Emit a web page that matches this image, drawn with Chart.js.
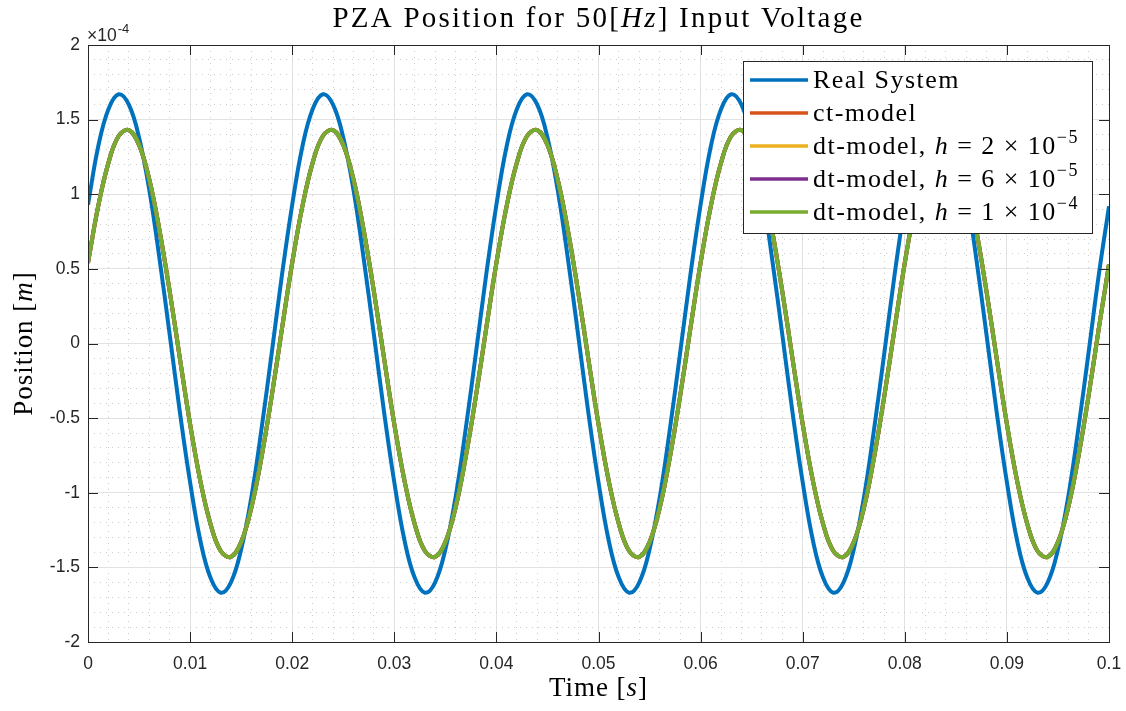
<!DOCTYPE html>
<html>
<head>
<meta charset="utf-8">
<script src="https://cdn.jsdelivr.net/npm/chart.js@4.4.1/dist/chart.umd.min.js"></script>
<style>
  html, body { margin: 0; padding: 0; background: #fff; }
  #wrap { width: 1126px; height: 711px; }
</style>
</head>
<body>
<div id="wrap"><canvas id="c" width="1126" height="711"></canvas></div>
<script>
// time samples, ms
const timeMs = [
  0, 1, 2, 3, 4, 5, 6, 7, 8, 9, 10, 11, 12, 13, 14, 15, 16, 17, 18, 19,
  20, 21, 22, 23, 24, 25, 26, 27, 28, 29, 30, 31, 32, 33, 34, 35, 36, 37, 38, 39,
  40, 41, 42, 43, 44, 45, 46, 47, 48, 49, 50, 51, 52, 53, 54, 55, 56, 57, 58, 59,
  60, 61, 62, 63, 64, 65, 66, 67, 68, 69, 70, 71, 72, 73, 74, 75, 76, 77, 78, 79,
  80, 81, 82, 83, 84, 85, 86, 87, 88, 89, 90, 91, 92, 93, 94, 95, 96, 97, 98, 99,
  100
];

// position, in units of 1e-4 m
const realSystem = [
  0.93, 1.32, 1.57, 1.67, 1.60, 1.38, 1.03, 0.57, 0.06, -0.46, -0.93, -1.32, -1.57, -1.67, -1.60, -1.38, -1.03, -0.57, -0.06, 0.46,
  0.93, 1.32, 1.57, 1.67, 1.60, 1.38, 1.03, 0.57, 0.06, -0.46, -0.93, -1.32, -1.57, -1.67, -1.60, -1.38, -1.03, -0.57, -0.06, 0.46,
  0.93, 1.32, 1.57, 1.67, 1.60, 1.38, 1.03, 0.57, 0.06, -0.46, -0.93, -1.32, -1.57, -1.67, -1.60, -1.38, -1.03, -0.57, -0.06, 0.46,
  0.93, 1.32, 1.57, 1.67, 1.60, 1.38, 1.03, 0.57, 0.06, -0.46, -0.93, -1.32, -1.57, -1.67, -1.60, -1.38, -1.03, -0.57, -0.06, 0.46,
  0.93, 1.32, 1.57, 1.67, 1.60, 1.38, 1.03, 0.57, 0.06, -0.46, -0.93, -1.32, -1.57, -1.67, -1.60, -1.38, -1.03, -0.57, -0.06, 0.46,
  0.92
];
const ctModel = [
  0.54, 0.92, 1.21, 1.39, 1.43, 1.33, 1.10, 0.76, 0.35, -0.10, -0.54, -0.92, -1.21, -1.39, -1.43, -1.33, -1.10, -0.76, -0.35, 0.10,
  0.54, 0.92, 1.21, 1.39, 1.43, 1.33, 1.10, 0.76, 0.35, -0.10, -0.54, -0.92, -1.21, -1.39, -1.43, -1.33, -1.10, -0.76, -0.35, 0.10,
  0.54, 0.92, 1.21, 1.39, 1.43, 1.33, 1.10, 0.76, 0.35, -0.10, -0.54, -0.92, -1.21, -1.39, -1.43, -1.33, -1.10, -0.76, -0.35, 0.10,
  0.54, 0.92, 1.21, 1.39, 1.43, 1.33, 1.10, 0.76, 0.35, -0.10, -0.54, -0.92, -1.21, -1.39, -1.43, -1.33, -1.10, -0.76, -0.35, 0.10,
  0.54, 0.92, 1.21, 1.39, 1.43, 1.33, 1.10, 0.76, 0.35, -0.10, -0.54, -0.92, -1.21, -1.39, -1.43, -1.33, -1.10, -0.76, -0.35, 0.10,
  0.53
];
// the three discrete models sit right on top of the ct-model
const dtModelH2 = ctModel.slice();
const dtModelH6 = ctModel.slice();
const dtModelH1 = ctModel.slice();

const xTickValues = [0, 0.01, 0.02, 0.03, 0.04, 0.05, 0.06, 0.07, 0.08, 0.09, 0.1];
const xTickLabels = ['0', '0.01', '0.02', '0.03', '0.04', '0.05', '0.06', '0.07', '0.08', '0.09', '0.1'];
const yTickValues = [-2, -1.5, -1, -0.5, 0, 0.5, 1, 1.5, 2];
const yTickLabels = ['-2', '-1.5', '-1', '-0.5', '0', '0.5', '1', '1.5', '2'];

const seriesNames = ['Real System', 'ct-model', 'dt-model, h = 2e-5', 'dt-model, h = 6e-5', 'dt-model, h = 1e-4'];
const colors = ['#0072BD', '#D95319', '#EDB120', '#7E2F8E', '#77AC30'];

const SERIF = '"Liberation Serif", "Times New Roman", serif';
const SANS = '"Liberation Sans", Arial, sans-serif';
const AXIS = '#262626';

function pts(vals) {
  return vals.map((v, i) => ({ x: timeMs[i] / 1000, y: v }));
}
function findIdx(arr, v) {
  return arr.findIndex(a => Math.abs(a - v) < 1e-9);
}

// legend rows as rich text: [text, style]  style: '' | 'i' | 'sup'
const legendRows = [
  [['Real System', '']],
  [['ct-model', '']],
  [['dt-model, ', ''], ['h', 'i'], [' = 2 \u00d7 10', ''], ['\u22125', 'sup']],
  [['dt-model, ', ''], ['h', 'i'], [' = 6 \u00d7 10', ''], ['\u22125', 'sup']],
  [['dt-model, ', ''], ['h', 'i'], [' = 1 \u00d7 10', ''], ['\u22124', 'sup']]
];

function richFont(style, size) {
  if (style === 'i') return 'italic ' + size + 'px ' + SERIF;
  if (style === 'sup') return Math.round(size * 0.7) + 'px ' + SERIF;
  return size + 'px ' + SERIF;
}
function richWidth(ctx, segs, size) {
  let w = 0;
  ctx.letterSpacing = '0px';
  segs.forEach(([t, s]) => { ctx.font = richFont(s, size); w += ctx.measureText(t).width; });
  return w;
}
function richChars(segs) {
  return segs.reduce((n, [t]) => n + t.length, 0);
}
// spread = extra px per character (the reference uses a wider TeX font)
function drawRich(ctx, segs, x, y, size, center, spread) {
  spread = spread || 0;
  const w = richWidth(ctx, segs, size) + spread * richChars(segs);
  let cx = center ? x - w / 2 : x;
  ctx.textAlign = 'left';
  ctx.textBaseline = 'alphabetic';
  segs.forEach(([t, s]) => {
    ctx.font = richFont(s, size);
    ctx.letterSpacing = '0px';
    const base = ctx.measureText(t).width;
    ctx.letterSpacing = spread + 'px';
    ctx.fillText(t, cx, s === 'sup' ? y - size * 0.42 : y);
    cx += base + spread * t.length;
  });
  ctx.letterSpacing = '0px';
}
function spreadFor(ctx, segs, size, target) {
  return Math.max(0, (target - richWidth(ctx, segs, size)) / richChars(segs));
}

const decor = {
  id: 'decor',
  beforeDraw(chart) {
    const ctx = chart.ctx;
    ctx.save();
    ctx.fillStyle = '#fff';
    ctx.fillRect(0, 0, chart.width, chart.height);
    ctx.restore();
  },
  afterDatasetsDraw(chart) {
    const ctx = chart.ctx;
    const a = chart.chartArea;
    const xs = chart.scales.x, ys = chart.scales.y;
    ctx.save();
    // box + inward ticks
    ctx.strokeStyle = AXIS;
    ctx.lineWidth = 1;
    ctx.beginPath();
    xTickValues.forEach(v => {
      const px = Math.round(xs.getPixelForValue(v)) + 0.5;
      ctx.moveTo(px, a.bottom); ctx.lineTo(px, a.bottom - 10);
      ctx.moveTo(px, a.top); ctx.lineTo(px, a.top + 10);
    });
    yTickValues.forEach(v => {
      const py = Math.round(ys.getPixelForValue(v)) + 0.5;
      ctx.moveTo(a.left, py); ctx.lineTo(a.left + 10, py);
      ctx.moveTo(a.right, py); ctx.lineTo(a.right - 10, py);
    });
    ctx.stroke();
    ctx.strokeRect(Math.round(a.left) + 0.5, Math.round(a.top) + 0.5,
      Math.round(a.right - a.left), Math.round(a.bottom - a.top));

    // legend
    const lx = 743.5, ly = 61.5, lw = 349, lh = 172;
    ctx.fillStyle = '#fff';
    ctx.fillRect(lx, ly, lw, lh);
    ctx.strokeStyle = AXIS;
    ctx.strokeRect(lx, ly, lw, lh);
    const lsize = 26;
    const lspread = spreadFor(ctx, legendRows[0], lsize, 147);
    const rowY = [80, 113, 146, 179, 212];
    legendRows.forEach((segs, i) => {
      ctx.strokeStyle = colors[i];
      ctx.lineWidth = 3.5;
      ctx.beginPath();
      ctx.moveTo(750, rowY[i]); ctx.lineTo(808, rowY[i]);
      ctx.stroke();
      ctx.fillStyle = '#000';
      drawRich(ctx, segs, 813, rowY[i] + 8, lsize, false, lspread);
    });

    // title and axis labels
    ctx.fillStyle = '#000';
    const title = [['PZA Position for 50[', ''], ['Hz', 'i'], ['] Input Voltage', '']];
    const tsize = 29;
    drawRich(ctx, title, (a.left + a.right) / 2, 27, tsize, true, spreadFor(ctx, title, tsize, 532));
    const xlab = [['Time [', ''], ['s', 'i'], [']', '']];
    const labSize = 27;
    const labSpread = spreadFor(ctx, xlab, labSize, 99);
    drawRich(ctx, xlab, (a.left + a.right) / 2, 696, labSize, true, labSpread);
    const ylab = [['Position [', ''], ['m', 'i'], [']', '']];
    ctx.save();
    ctx.translate(32, (a.top + a.bottom) / 2);
    ctx.rotate(-Math.PI / 2);
    drawRich(ctx, ylab, 0, 0, labSize, true, labSpread);
    ctx.restore();

    // exponent label
    ctx.fillStyle = AXIS;
    ctx.font = '17.5px ' + SANS;
    ctx.textAlign = 'left';
    ctx.fillText('\u00d710', a.left - 1, 41);
    const w10 = ctx.measureText('\u00d710').width;
    ctx.font = '13px ' + SANS;
    ctx.fillText('-4', a.left + w10, 33);
    ctx.restore();
  }
};

const lineStyle = (i) => ({
  borderColor: colors[i],
  backgroundColor: colors[i],
  borderWidth: 4,
  pointRadius: 0,
  tension: 0.4,
  fill: false,
  order: 5 - i
});

new Chart(document.getElementById('c'), {
  type: 'line',
  data: {
    datasets: [
      Object.assign({ label: seriesNames[0], data: pts(realSystem) }, lineStyle(0)),
      Object.assign({ label: seriesNames[1], data: pts(ctModel) }, lineStyle(1)),
      Object.assign({ label: seriesNames[2], data: pts(dtModelH2) }, lineStyle(2)),
      Object.assign({ label: seriesNames[3], data: pts(dtModelH6) }, lineStyle(3)),
      Object.assign({ label: seriesNames[4], data: pts(dtModelH1) }, lineStyle(4))
    ]
  },
  options: {
    responsive: false,
    animation: false,
    devicePixelRatio: 1,
    layout: { padding: { top: 45, right: 17, left: 0, bottom: 0 } },
    plugins: { legend: { display: false }, tooltip: { enabled: false }, title: { display: false } },
    scales: {
      x: {
        type: 'linear',
        min: 0, max: 0.1,
        afterFit: (s) => { s.height = 69; s.paddingLeft = 0; s.paddingRight = 0; },
        ticks: {
          stepSize: 0.002,
          autoSkip: false,
          maxRotation: 0,
          padding: 12,
          color: AXIS,
          font: { family: SANS, size: 17.5 },
          callback: (v) => { const k = findIdx(xTickValues, v); return k >= 0 ? xTickLabels[k] : ''; }
        },
        grid: {
          drawTicks: false,
          color: (c) => findIdx(xTickValues, c.tick.value) >= 0 ? '#e2e2e2' : '#cdcdcd',
          lineWidth: 1
        },
        border: {
          display: false,
          dash: (c) => (c.tick && findIdx(xTickValues, c.tick.value) >= 0) ? [] : [1, 5]
        }
      },
      y: {
        type: 'linear',
        min: -2, max: 2,
        afterFit: (s) => { s.width = 88; s.paddingTop = 0; s.paddingBottom = 0; },
        ticks: {
          stepSize: 0.1,
          autoSkip: false,
          padding: 8,
          color: AXIS,
          font: { family: SANS, size: 17.5 },
          callback: (v) => { const k = findIdx(yTickValues, v); return k >= 0 ? yTickLabels[k] : ''; }
        },
        grid: {
          drawTicks: false,
          color: (c) => findIdx(yTickValues, c.tick.value) >= 0 ? '#e2e2e2' : '#cdcdcd',
          lineWidth: 1
        },
        border: {
          display: false,
          dash: (c) => (c.tick && findIdx(yTickValues, c.tick.value) >= 0) ? [] : [1, 5]
        }
      }
    }
  },
  plugins: [decor]
});
</script>
</body>
</html>
